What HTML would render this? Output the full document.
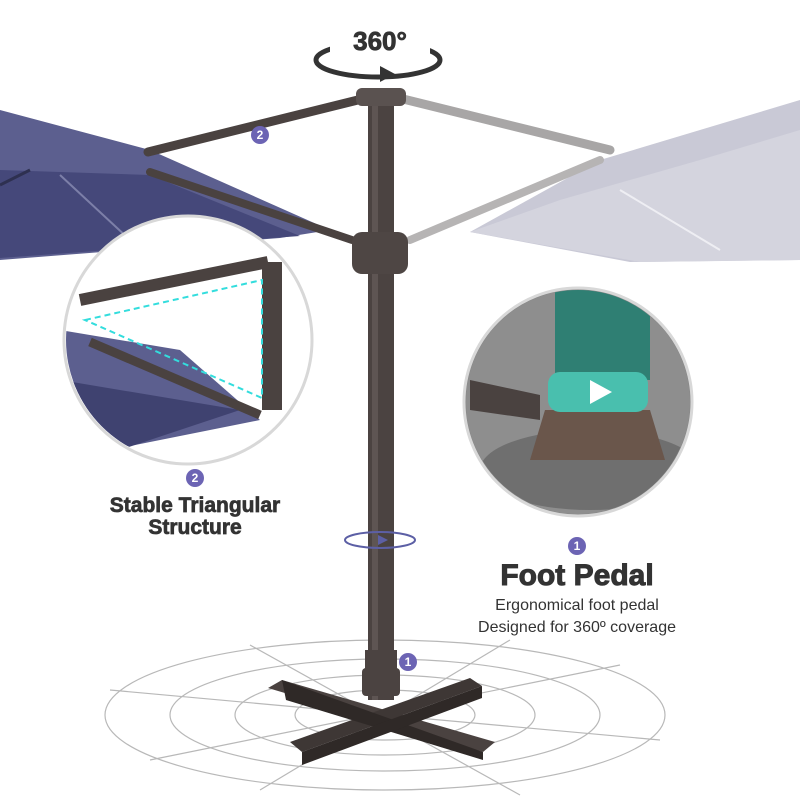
<!DOCTYPE html>
<html><head><meta charset="utf-8"><style>
html,body{margin:0;padding:0;background:#fff}
svg{display:block}
text{font-family:"Liberation Sans",sans-serif}
</style></head><body>
<svg width="800" height="800" viewBox="0 0 800 800" xmlns="http://www.w3.org/2000/svg">
<rect width="800" height="800" fill="#fff"/>
<g fill="none" stroke="#b8b8b8" stroke-width="1.2">
<ellipse cx="385" cy="715" rx="280" ry="75"/>
<ellipse cx="385" cy="715" rx="215" ry="56"/>
<ellipse cx="385" cy="715" rx="150" ry="40"/>
<ellipse cx="385" cy="715" rx="90" ry="25"/>
<line x1="110" y1="690" x2="660" y2="740"/>
<line x1="150" y1="760" x2="620" y2="665"/>
<line x1="260" y1="790" x2="510" y2="640"/>
<line x1="520" y1="795" x2="250" y2="645"/>
</g>
<polygon points="0,110 150,150 330,230 280,238 0,260" fill="#5c5f8f"/>
<polygon points="0,170 150,175 300,236 0,258" fill="#45487a"/>
<line x1="0" y1="185" x2="30" y2="170" stroke="#2e3050" stroke-width="3"/>
<line x1="60" y1="175" x2="130" y2="240" stroke="#7c7fa8" stroke-width="2"/>
<polygon points="800,100 800,260 630,262 470,232 600,160" fill="#c9c9d6"/>
<polygon points="800,130 700,160 560,200 470,232 640,262 800,260" fill="#d4d4de"/>
<line x1="620" y1="190" x2="720" y2="250" stroke="#eeeef3" stroke-width="2"/>
<g stroke-linecap="round">
<line x1="148" y1="152" x2="370" y2="97" stroke="#4a4240" stroke-width="9"/>
<line x1="150" y1="172" x2="352" y2="240" stroke="#4a4240" stroke-width="8"/>
<line x1="395" y1="97" x2="610" y2="150" stroke="#a8a6a6" stroke-width="9"/>
<line x1="410" y1="240" x2="600" y2="160" stroke="#b6b4b4" stroke-width="8"/>
</g>
<rect x="368" y="95" width="26" height="605" fill="#4b4341"/>
<rect x="372" y="95" width="6" height="605" fill="#5e5553"/>
<rect x="356" y="88" width="50" height="18" rx="6" fill="#5a5250"/>
<rect x="352" y="232" width="56" height="42" rx="10" fill="#4e4644"/>
<!-- base cross: two bars -->
<polygon points="268,688 282,680 495,742 483,752" fill="#4a4240"/>
<polygon points="290,742 470,678 482,686 302,752" fill="#3e3735"/>
<polygon points="282,680 286,700 483,760 483,752" fill="#2f2927"/>
<polygon points="302,752 302,765 482,698 482,686" fill="#2f2927"/>
<rect x="362" y="668" width="38" height="28" rx="4" fill="#4b4341"/>
<rect x="365" y="650" width="32" height="30" fill="#4b4341"/>
<ellipse cx="378" cy="60" rx="62" ry="17" fill="none" stroke="#333" stroke-width="5"/>
<rect x="330" y="25" width="100" height="34" fill="#fff"/>
<polygon points="380,66 395,74 380,82" fill="#333"/>
<text x="380" y="50" font-size="26" font-weight="bold" text-anchor="middle" fill="#333" stroke="#333" stroke-width="0.8">360°</text>
<ellipse cx="380" cy="540" rx="35" ry="8" fill="none" stroke="#5c5fa5" stroke-width="2"/>
<polygon points="378,535 388,540 378,545" fill="#5c5fa5"/>
<circle cx="188" cy="340" r="124" fill="#fff" stroke="#d8d8d8" stroke-width="3"/>
<clipPath id="cl"><circle cx="188" cy="340" r="122"/></clipPath>
<g clip-path="url(#cl)">
<polygon points="60,330 180,350 260,420 60,460" fill="#5c5f8f"/>
<polygon points="60,380 240,410 60,470" fill="#3f4270"/>
<line x1="80" y1="300" x2="268" y2="262" stroke="#4a4240" stroke-width="12"/>
<line x1="272" y1="262" x2="272" y2="410" stroke="#4a4240" stroke-width="20"/>
<line x1="90" y1="342" x2="260" y2="415" stroke="#4a4240" stroke-width="9"/>
<polygon points="85,320 262,280 262,398" fill="none" stroke="#3dd" stroke-width="2" stroke-dasharray="6 4"/>
</g>
<circle cx="578" cy="402" r="114" fill="#888" stroke="#d8d8d8" stroke-width="3"/>
<clipPath id="cr"><circle cx="578" cy="402" r="112"/></clipPath>
<g clip-path="url(#cr)">
<rect x="460" y="280" width="240" height="240" fill="#8e8e8e"/>
<ellipse cx="590" cy="470" rx="110" ry="40" fill="#6f6f6f"/>
<rect x="555" y="290" width="95" height="90" fill="#2f7f73"/>
<polygon points="545,410 650,410 665,460 530,460" fill="#6a564b"/>
<rect x="548" y="372" width="100" height="40" rx="12" fill="#49bfae"/>
<polygon points="590,380 612,392 590,404" fill="#fff"/>
<polygon points="470,380 540,395 540,420 470,410" fill="#4a4240"/>
</g>
<g font-size="12" font-weight="bold" text-anchor="middle" fill="#fff">
<circle cx="260" cy="135" r="9" fill="#6c64b4"/><text x="260" y="139">2</text>
<circle cx="195" cy="478" r="9" fill="#6c64b4"/><text x="195" y="482">2</text>
<circle cx="577" cy="546" r="9" fill="#6c64b4"/><text x="577" y="550">1</text>
<circle cx="408" cy="662" r="9" fill="#6c64b4"/><text x="408" y="666">1</text>
</g>
<g fill="#333" stroke="#333" font-weight="bold" text-anchor="middle">
<text x="195" y="512" font-size="21" stroke-width="0.7">Stable Triangular</text>
<text x="195" y="534" font-size="21" stroke-width="0.7">Structure</text>
<text x="577" y="585" font-size="30" stroke-width="1">Foot Pedal</text>
</g>
<text x="577" y="610" font-size="16" text-anchor="middle" fill="#333">Ergonomical foot pedal</text>
<text x="577" y="632" font-size="16" text-anchor="middle" fill="#333">Designed for 360º coverage</text>
</svg>
</body></html>
